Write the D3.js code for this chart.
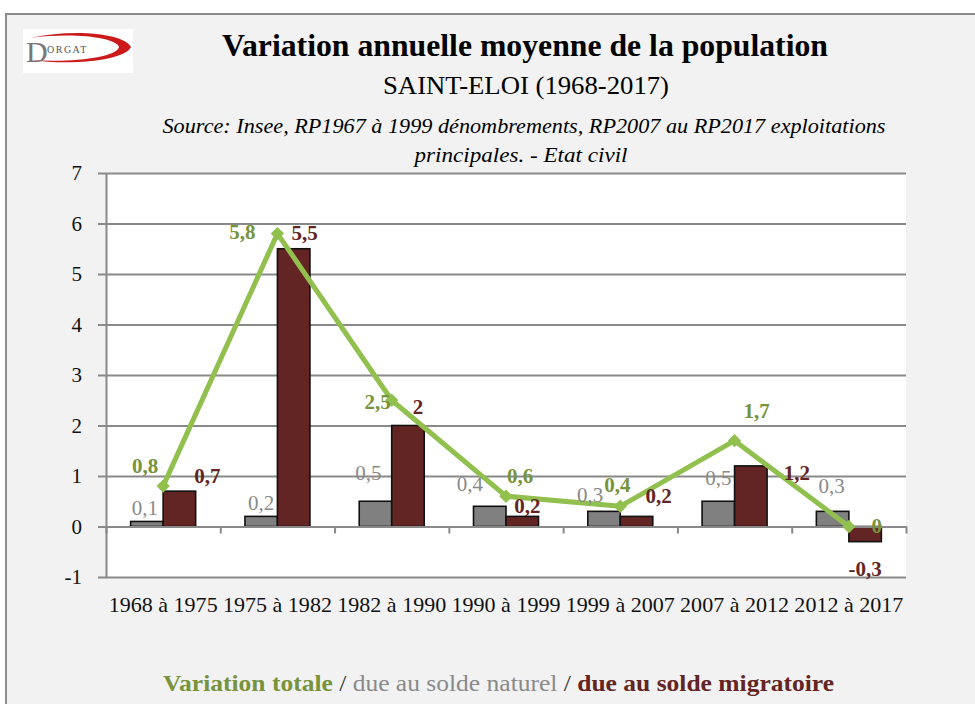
<!DOCTYPE html>
<html>
<head>
<meta charset="utf-8">
<script src="https://cdn.jsdelivr.net/npm/d3@7"></script>
<style>
  body { margin: 0; background: #fff; }
  svg text { font-family: "Liberation Serif", "DejaVu Serif", serif; }
</style>
</head>
<body>
<div id="chart"></div>
<script>
// data
var categories = ["1968 à 1975", "1975 à 1982", "1982 à 1990", "1990 à 1999", "1999 à 2007", "2007 à 2012", "2012 à 2017"];
var totalVar = [0.8, 5.8, 2.5, 0.6, 0.4, 1.7, 0];
var naturalVar = [0.1, 0.2, 0.5, 0.4, 0.3, 0.5, 0.3];
var migratoryVar = [0.7, 5.5, 2, 0.2, 0.2, 1.2, -0.3];
var yTicks = [-1, 0, 1, 2, 3, 4, 5, 6, 7];

// hand placed label nudges (pixels from the mark), like the original
var nudgeTotal = [[-18, -21], [-35, -2], [-14, 1], [14, -21], [-3, -22], [22, -30], [28, -1]];
var nudgeNatural = [[-2, -14], [0, -14], [-7, -29], [-20, -23], [-14, -17], [0, -24], [-1, -26]];
var nudgeMigr = [[28, -16], [11, -16], [10, -19], [5, -11], [22, -21], [46, 7], [0, 27]];

var W = 975, H = 704;
var plot = { left: 106, right: 906, top: 173, bottom: 577 };
var serif = "Liberation Serif, DejaVu Serif, serif";

var cGreen = "#92c04f", cGreenTxt = "#77933c", cGrey = "#808080", cGreyTxt = "#8a8a8a", cMaroon = "#632523";

var svg = d3.select("#chart").append("svg")
    .attr("width", W)
    .attr("height", H)
    .attr("font-family", serif);

// frame
svg.append("rect")
    .attr("x", 6).attr("y", 14)
    .attr("width", W + 10).attr("height", H)
    .attr("fill", "#f2f2f2")
    .attr("stroke", "#8c8c8c")
    .attr("stroke-width", 2);

// logo
var logo = svg.append("g");
logo.append("rect").attr("x", 23).attr("y", 29).attr("width", 110).attr("height", 44).attr("fill", "#fff");
logo.append("path")
    .attr("fill", "#cc1a1a")
    .attr("fill-rule", "evenodd")
    .attr("d", "M30,38 C75,28 125,34 131,47 C125,60 75,66 30,60 C75,63 117,57 119,47 C117,38 75,32 30,38 Z");
logo.append("text").attr("x", 26).attr("y", 62).attr("font-size", 30).attr("fill", "#777")
    .attr("font-weight", "normal").text("D");
logo.append("text").attr("x", 47).attr("y", 53).attr("font-size", 10).attr("fill", "#555")
    .attr("letter-spacing", 1.5).text("ORGAT");

// titles
svg.append("text")
    .attr("x", 525).attr("y", 56)
    .attr("text-anchor", "middle")
    .attr("font-size", 32).attr("font-weight", "bold")
    .attr("textLength", 606).attr("lengthAdjust", "spacingAndGlyphs")
    .text("Variation annuelle moyenne de la population");

svg.append("text")
    .attr("x", 526).attr("y", 94)
    .attr("text-anchor", "middle")
    .attr("font-size", 25)
    .attr("textLength", 286).attr("lengthAdjust", "spacingAndGlyphs")
    .text("SAINT-ELOI (1968-2017)");

svg.append("text")
    .attr("x", 524).attr("y", 133)
    .attr("text-anchor", "middle")
    .attr("font-size", 21).attr("font-style", "italic")
    .attr("textLength", 723).attr("lengthAdjust", "spacingAndGlyphs")
    .text("Source: Insee, RP1967 à 1999 dénombrements, RP2007 au RP2017 exploitations");

svg.append("text")
    .attr("x", 521).attr("y", 162)
    .attr("text-anchor", "middle")
    .attr("font-size", 21).attr("font-style", "italic")
    .attr("textLength", 213).attr("lengthAdjust", "spacingAndGlyphs")
    .text("principales. - Etat civil");

// scales
var x = d3.scaleBand()
    .domain(categories)
    .range([plot.left, plot.right]);

var barW = 32.5;
var x1 = d3.scaleBand()
    .domain(["nat", "mig"])
    .range([x.bandwidth() / 2 - barW, x.bandwidth() / 2 + barW]);

var y = d3.scaleLinear()
    .domain([-1, 7])
    .range([plot.bottom, plot.top]);

var fmt = function(v) { return String(v).replace(".", ","); };

// plot area
svg.append("rect")
    .attr("x", plot.left).attr("y", plot.top)
    .attr("width", plot.right - plot.left).attr("height", plot.bottom - plot.top)
    .attr("fill", "#fff");

// gridlines
svg.append("g")
    .attr("class", "grid")
    .attr("transform", "translate(" + plot.left + ",0)")
    .call(d3.axisLeft(y)
        .tickValues(yTicks)
        .tickSize(-(plot.right - plot.left))
        .tickFormat("")
    )
    .call(function(g) { g.select(".domain").remove(); })
    .selectAll("line")
    .attr("stroke", "#898989")
    .attr("stroke-width", 2);

// y axis
var yAxis = svg.append("g")
    .attr("transform", "translate(" + plot.left + ",0)")
    .call(d3.axisLeft(y)
        .tickValues(yTicks)
        .tickSize(8)
        .tickSizeOuter(0)
        .tickPadding(16)
        .tickFormat(function(d) { return String(d); })
    );
yAxis.attr("font-family", serif);
yAxis.select(".domain").attr("stroke", "#898989").attr("stroke-width", 2);
yAxis.selectAll("line").attr("stroke", "#898989").attr("stroke-width", 2);
yAxis.selectAll("text")
    .attr("font-size", 21)
    .attr("fill", "#111");

// bars
var groups = svg.append("g")
    .selectAll("g")
    .data(categories)
    .join("g")
    .attr("transform", function(d) { return "translate(" + x(d) + ",0)"; });

groups.append("rect")
    .attr("x", x1("nat"))
    .attr("width", x1.bandwidth())
    .attr("y", function(d, i) { return y(Math.max(0, naturalVar[i])); })
    .attr("height", function(d, i) { return Math.abs(y(naturalVar[i]) - y(0)); })
    .attr("fill", cGrey)
    .attr("stroke", "#111")
    .attr("stroke-width", 1.6);

groups.append("rect")
    .attr("x", x1("mig"))
    .attr("width", x1.bandwidth())
    .attr("y", function(d, i) { return y(Math.max(0, migratoryVar[i])); })
    .attr("height", function(d, i) { return Math.abs(y(migratoryVar[i]) - y(0)); })
    .attr("fill", cMaroon)
    .attr("stroke", "#111")
    .attr("stroke-width", 1.6);

// x axis at zero with ticks between categories
var xb = d3.scaleLinear().domain([0, categories.length]).range([plot.left, plot.right]);
var xAxis = svg.append("g")
    .attr("transform", "translate(0," + y(0) + ")")
    .call(d3.axisBottom(xb)
        .ticks(categories.length)
        .tickSize(7)
        .tickSizeOuter(0)
        .tickFormat("")
    );
xAxis.select(".domain").attr("stroke", "#898989").attr("stroke-width", 2);
xAxis.selectAll("line").attr("stroke", "#898989").attr("stroke-width", 2);

// category labels
var xLab = svg.append("g")
    .attr("transform", "translate(0,597)")
    .call(d3.axisBottom(x).tickSize(0).tickPadding(0));
xLab.attr("font-family", serif);
xLab.select(".domain").remove();
xLab.selectAll("text")
    .attr("font-size", 21)
    .attr("fill", "#111")
    .attr("textLength", 109)
    .attr("lengthAdjust", "spacingAndGlyphs");

// total variation line
var cx = function(i) { return x(categories[i]) + x.bandwidth() / 2; };

svg.append("path")
    .datum(totalVar)
    .attr("fill", "none")
    .attr("stroke", cGreen)
    .attr("stroke-width", 5)
    .attr("stroke-linejoin", "round")
    .attr("d", d3.line()
        .x(function(d, i) { return cx(i); })
        .y(function(d) { return y(d); })
    );

svg.append("g")
    .selectAll("path")
    .data(totalVar)
    .join("path")
    .attr("d", d3.symbol(d3.symbolSquare, 90))
    .attr("fill", cGreen)
    .attr("transform", function(d, i) { return "translate(" + cx(i) + "," + y(d) + ") rotate(45)"; });

// data labels
function addLabels(values, nudges, xOf, color, weight) {
    svg.append("g")
        .selectAll("text")
        .data(values)
        .join("text")
        .attr("x", function(d, i) { return xOf(i) + nudges[i][0]; })
        .attr("y", function(d, i) { return y(d) + nudges[i][1]; })
        .attr("dy", "0.36em")
        .attr("text-anchor", "middle")
        .attr("font-size", 21)
        .attr("font-weight", weight)
        .attr("fill", color)
        .text(fmt);
}

addLabels(naturalVar, nudgeNatural, function(i) { return x(categories[i]) + x1("nat") + x1.bandwidth() / 2; }, cGreyTxt, "normal");
addLabels(migratoryVar, nudgeMigr, function(i) { return x(categories[i]) + x1("mig") + x1.bandwidth() / 2; }, cMaroon, "bold");
addLabels(totalVar, nudgeTotal, cx, cGreenTxt, "bold");

// legend line
var leg = svg.append("text")
    .attr("x", 163).attr("y", 691)
    .attr("font-size", 23)
    .attr("textLength", 671).attr("lengthAdjust", "spacingAndGlyphs");
leg.append("tspan").attr("fill", cGreenTxt).attr("font-weight", "bold").text("Variation totale");
leg.append("tspan").attr("fill", "#333").text(" / ");
leg.append("tspan").attr("fill", cGreyTxt).text("due au solde naturel");
leg.append("tspan").attr("fill", "#333").text(" / ");
leg.append("tspan").attr("fill", cMaroon).attr("font-weight", "bold").text("due au solde migratoire");
</script>
</body>
</html>
